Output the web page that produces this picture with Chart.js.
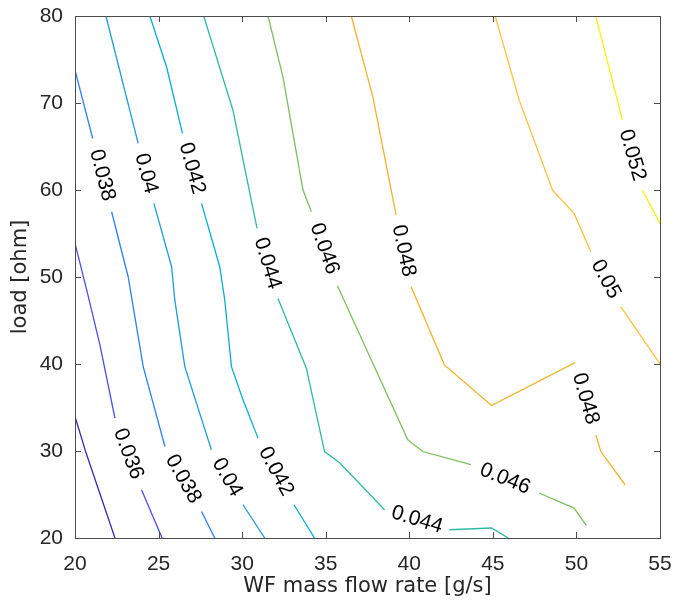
<!DOCTYPE html>
<html><head><meta charset="utf-8">
<script src="https://cdn.jsdelivr.net/npm/chart.js@4.4.0/dist/chart.umd.min.js"></script>
<style>html,body{margin:0;padding:0;background:#fff;} #wrap{width:673px;height:611px;}</style>
</head><body><div id="wrap"><canvas id="c" width="673" height="611"></canvas></div>
<script>
// Contour levels and their colours (parula colormap)
const levels = [0.034, 0.036, 0.038, 0.04, 0.042, 0.044, 0.046, 0.048, 0.05, 0.052];
const levelColors = ['#3e26a8', '#4650ec', '#2e7ff2', '#1e9bdc', '#06aed0', '#2fb9a0', '#7cbf5e', '#efb42a', '#fbc239', '#f9f20e'];
const levelLabels = ['', '0.036', '0.038', '0.04', '0.042', '0.044', '0.046', '0.048', '0.05', '0.052'];

// Contour line vertices [WF mass flow rate, load]; null = gap holding the inline label
const line034 = [[20, 33.96], [20.66, 29.79], [22.39, 20]];
const line036 = [[20, 53.87], [20.70, 48.51], [21.49, 42.19], [22.39, 33.78], null, [23.98, 25.55], [25.21, 20]];
const line038 = [[20, 73.77], [21.06, 65.92], null, [22.19, 57.50], [23.18, 50.03], [24.08, 39.70], [25.38, 30.52], null, [27.57, 23.05], [28.36, 20]];
const line040 = [[21.85, 80], [23.78, 65.35], null, [24.72, 58.46], [25.78, 51.18], [25.97, 47.36], [26.57, 39.70], [28.16, 30.14], null, [30.05, 23.82], [31.35, 20]];
const line042 = [[24.48, 80], [25.48, 74.14], [26.43, 66.50], null, [27.57, 58.46], [28.66, 51.18], [28.96, 47.36], [29.36, 39.70], [30.05, 35.88], [30.95, 31.48], null, [33.10, 23.82], [34.33, 20]];
const line044 = [[27.70, 80], [29.45, 69.17], [30.89, 55.59], null, [32.14, 47.55], [33.84, 39.52], [34.93, 29.94], [35.83, 28.65], [38.52, 23.25], null, [42.40, 20.95], [44.92, 21.15], [45.92, 20]];
const line046 = [[31.55, 80], [32.44, 73.0], [33.64, 59.99], [34.14, 57.50], null, [35.70, 49.0], [39.91, 31.29], [40.80, 29.94], [43.69, 28.42], null, [47.77, 25.17], [49.86, 23.44], [50.60, 21.41]];
const line048 = [[36.53, 80], [37.82, 70.70], [39.21, 57.12], null, [40.11, 48.89], [42.10, 39.90], [44.92, 35.22], [49.92, 40.16], null, [51.16, 31.86], [51.46, 29.94], [52.91, 26.12]];
const line050 = [[45.14, 80], [46.58, 70.30], [48.57, 59.99], [49.86, 57.31], [50.86, 52.90], null, [52.65, 46.59], [55, 40.01]];
const line052 = [[51.16, 80], [52.75, 68.04], null, [53.94, 59.99], [55, 56.17]];
const contourLines = [line034, line036, line038, line040, line042, line044, line046, line048, line050, line052];

const xTicks = [20, 25, 30, 35, 40, 45, 50, 55];
const yTicks = [20, 30, 40, 50, 60, 70, 80];

const FONT = 'Arial, "Liberation Sans", Helvetica, sans-serif';
const TITLE_FONT = '"DejaVu Sans", Arial, sans-serif';
const TXT = '#262626';

// Build one dataset per continuous segment
const datasets = [];
contourLines.forEach((line, li) => {
  let seg = [];
  const flush = () => {
    if (seg.length) datasets.push({
      data: seg, showLine: true, pointRadius: 0, borderWidth: 1.3,
      borderColor: levelColors[li], backgroundColor: levelColors[li], tension: 0, fill: false
    });
    seg = [];
  };
  line.forEach(p => { if (p === null) flush(); else seg.push({x: p[0], y: p[1]}); });
  flush();
});

const contourLabelPlugin = {
  id: 'contourLabels',
  afterDatasetsDraw(chart) {
    const {ctx, scales: {x, y}} = chart;
    ctx.save();
    ctx.font = '21px ' + FONT;
    ctx.fillStyle = '#000';
    ctx.textAlign = 'center';
    ctx.textBaseline = 'middle';
    contourLines.forEach((line, li) => {
      for (let i = 1; i < line.length - 1; i++) {
        if (line[i] !== null) continue;
        const a = line[i - 1], b = line[i + 1];
        let ax = x.getPixelForValue(a[0]), ay = y.getPixelForValue(a[1]);
        let bx = x.getPixelForValue(b[0]), by = y.getPixelForValue(b[1]);
        if (bx < ax) { [ax, bx] = [bx, ax]; [ay, by] = [by, ay]; }
        const ang = Math.atan2(by - ay, bx - ax);
        ctx.save();
        ctx.translate((ax + bx) / 2, (ay + by) / 2);
        ctx.rotate(ang);
        ctx.fillText(levelLabels[li], 0, 0);
        ctx.restore();
      }
    });
    ctx.restore();
  }
};

const boxPlugin = {
  id: 'boxTicks',
  afterDraw(chart) {
    const {ctx, chartArea: ca, scales: {x, y}} = chart;
    ctx.save();
    ctx.strokeStyle = '#4d4d4d';
    ctx.lineWidth = 1;
    ctx.strokeRect(Math.round(ca.left) + 0.5, Math.round(ca.top) + 0.5, Math.round(ca.right - ca.left), Math.round(ca.bottom - ca.top));
    const L = 6;
    ctx.beginPath();
    xTicks.forEach(v => {
      const px = Math.round(x.getPixelForValue(v)) + 0.5;
      ctx.moveTo(px, ca.bottom); ctx.lineTo(px, ca.bottom - L);
      ctx.moveTo(px, ca.top); ctx.lineTo(px, ca.top + L);
    });
    yTicks.forEach(v => {
      const py = Math.round(y.getPixelForValue(v)) + 0.5;
      ctx.moveTo(ca.left, py); ctx.lineTo(ca.left + L, py);
      ctx.moveTo(ca.right, py); ctx.lineTo(ca.right - L, py);
    });
    ctx.stroke();
    ctx.restore();
  }
};

function noPad(s) { s.paddingLeft = 0; s.paddingRight = 0; s.paddingTop = 0; s.paddingBottom = 0; }

new Chart(document.getElementById('c'), {
  type: 'scatter',
  data: {datasets},
  options: {
    responsive: false,
    animation: false,
    events: [],
    layout: {padding: {top: 16, right: 13, left: 0, bottom: 0}},
    plugins: {legend: {display: false}, tooltip: {enabled: false}},
    scales: {
      x: {
        type: 'linear', min: 20, max: 55,
        afterBuildTicks: s => { s.ticks = xTicks.map(v => ({value: v})); },
        afterFit: s => { s.height = 73; noPad(s); },
        grid: {display: false, drawTicks: false},
        border: {display: false},
        ticks: {padding: 14, color: TXT, font: {family: FONT, size: 21}, maxRotation: 0, autoSkip: false},
        title: {display: true, text: 'WF mass flow rate [g/s]', color: TXT, font: {family: TITLE_FONT, size: 21, lineHeight: 1.2}, padding: {top: 0, bottom: 12}}
      },
      y: {
        type: 'linear', min: 20, max: 80,
        afterBuildTicks: s => { s.ticks = yTicks.map(v => ({value: v})); },
        afterFit: s => { s.width = 75; noPad(s); },
        grid: {display: false, drawTicks: false},
        border: {display: false},
        ticks: {padding: 12, color: TXT, font: {family: FONT, size: 21}, autoSkip: false},
        title: {display: true, text: 'load [ohm]', color: TXT, font: {family: TITLE_FONT, size: 21, lineHeight: 1.2}, padding: {top: 8, bottom: 0}}
      }
    }
  },
  plugins: [contourLabelPlugin, boxPlugin]
});
</script>
</body></html>
